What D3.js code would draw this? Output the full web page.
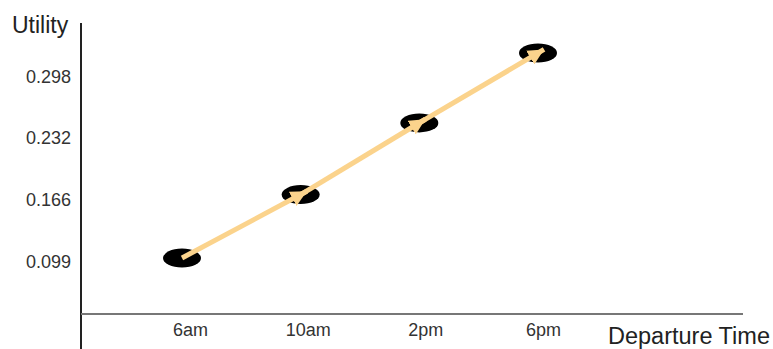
<!DOCTYPE html>
<html>
<head>
<meta charset="utf-8">
<script src="https://cdn.jsdelivr.net/npm/d3@7"></script>
<style>
  html, body { margin: 0; padding: 0; background: #fff; }
  svg { display: block; }
  text { font-family: "Liberation Sans", Arial, Helvetica, sans-serif; }
</style>
</head>
<body>
<svg id="chart" width="773" height="349"></svg>
<script>
// ---- data ----
const categories = ["6am", "10am", "2pm", "6pm"];
const utilityValues = [0.103, 0.171, 0.248, 0.323];
const yTickValues = [0.099, 0.166, 0.232, 0.298];
const yTickLabels = ["0.099", "0.166", "0.232", "0.298"];
const xAxisTitle = "Departure Time";
const yAxisTitle = "Utility";

// ---- layout ----
const W = 773, H = 349;
const axisX = 81, axisY = 314;
const svg = d3.select("#chart");

const y = d3.scaleLinear().domain([0.099, 0.298]).range([261.7, 76.3]);
const xPts = d3.scalePoint().domain(categories).range([182, 538]);
const xLab = d3.scalePoint().domain(categories).range([190, 543]);

const data = categories.map((c, i) => ({ c, v: utilityValues[i] }));

// axis lines
svg.append("line")
  .attr("x1", axisX).attr("x2", axisX)
  .attr("y1", 23).attr("y2", H)
  .attr("stroke", "#222").attr("stroke-width", 2);
svg.append("line")
  .attr("x1", axisX).attr("x2", 743)
  .attr("y1", axisY).attr("y2", axisY)
  .attr("stroke", "#777").attr("stroke-width", 2);

// y tick labels
const yAxis = d3.axisLeft(y)
  .tickValues(yTickValues)
  .tickFormat((d, i) => yTickLabels[i])
  .tickSize(0).tickPadding(10);
const gy = svg.append("g").attr("transform", `translate(${axisX},0)`).call(yAxis);
gy.select(".domain").remove();
gy.selectAll("text").attr("font-size", 18).attr("fill", "#333")
  .attr("font-family", "'Liberation Sans', Arial, sans-serif");

// x tick labels
const xAxis = d3.axisBottom(xLab).tickSize(0).tickPadding(9);
const gx = svg.append("g").attr("transform", `translate(0,${axisY})`).call(xAxis);
gx.select(".domain").remove();
gx.selectAll("text").attr("font-size", 18).attr("fill", "#333")
  .attr("font-family", "'Liberation Sans', Arial, sans-serif");

// titles
svg.append("text").attr("x", 12).attr("y", 33.3)
  .attr("font-size", 23).attr("fill", "#222").text(yAxisTitle);
svg.append("text").attr("x", 608).attr("y", 344)
  .attr("font-size", 23.5).attr("fill", "#222").text(xAxisTitle);

// arrow marker
svg.append("defs").append("marker")
  .attr("id", "arrowHead")
  .attr("markerUnits", "userSpaceOnUse")
  .attr("viewBox", "0 0 16 16")
  .attr("refX", 16).attr("refY", 8)
  .attr("markerWidth", 16).attr("markerHeight", 16)
  .attr("orient", "auto")
  .append("path")
  .attr("d", "M0,0 L16,8 L0,16 Z")
  .attr("fill", "#fbd38c");

// points (ellipses)
svg.selectAll("ellipse.pt").data(data).join("ellipse")
  .attr("class", "pt")
  .attr("cx", d => xPts(d.c))
  .attr("cy", d => y(d.v))
  .attr("rx", 19).attr("ry", 9.5)
  .attr("fill", "#000");

// arrows between consecutive points
const segs = d3.pairs(data);
svg.selectAll("line.arrow").data(segs).join("line")
  .attr("class", "arrow")
  .each(function ([a, b]) {
    const x1 = xPts(a.c), y1 = y(a.v), x2 = xPts(b.c), y2 = y(b.v);
    const L = Math.hypot(x2 - x1, y2 - y1);
    const ux = (x2 - x1) / L, uy = (y2 - y1) / L;
    d3.select(this)
      .attr("x1", x1).attr("y1", y1)
      .attr("x2", x2 + ux * 7).attr("y2", y2 + uy * 7);
  })
  .attr("stroke", "#fbd38c")
  .attr("stroke-width", 5)
  .attr("marker-end", "url(#arrowHead)");
</script>
</body>
</html>
